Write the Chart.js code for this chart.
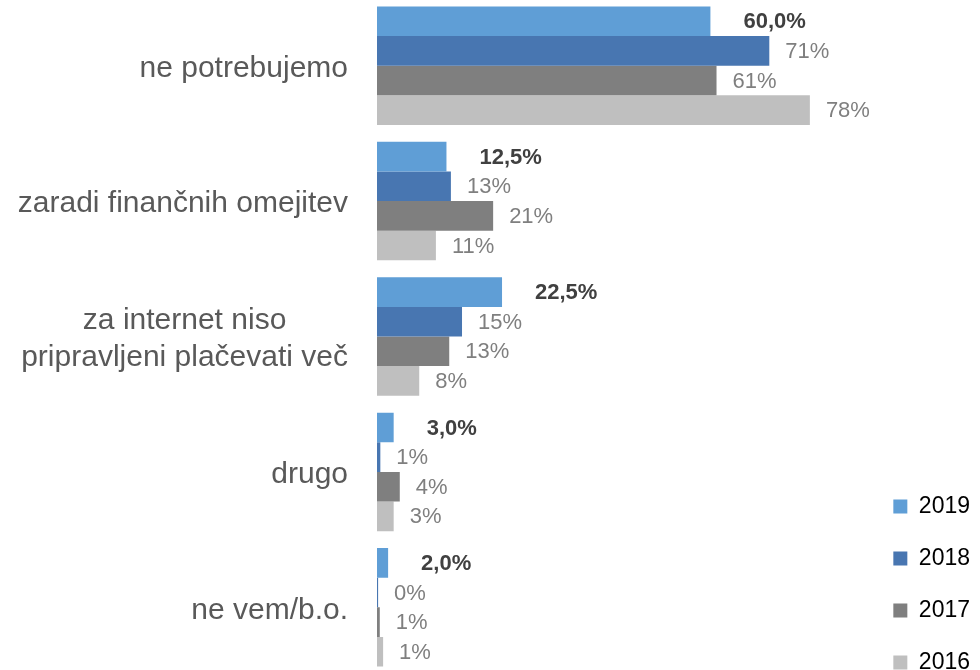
<!DOCTYPE html>
<html>
<head>
<meta charset="utf-8">
<script src="https://cdn.jsdelivr.net/npm/chart.js@4/dist/chart.umd.min.js"></script>
<style>
  html, body { margin: 0; padding: 0; background: #fff; overflow: hidden; }
  #wrap { position: absolute; left: 0; top: -2px; width: 980px; height: 705px; }
</style>
</head>
<body>
<div id="wrap"><canvas id="my-chart"></canvas></div>
<script>
// categories (multi-line label as array)
const categories = [
  'ne potrebujemo',
  'zaradi finančnih omejitev',
  ['za internet niso', 'pripravljeni plačevati več'],
  'drugo',
  'ne vem/b.o.'
];

// values in percent
const years = ['2019', '2018', '2017', '2016'];
const v2019 = [60.0, 12.5, 22.5, 3.0, 2.0];
const v2018 = [70.6, 13.3, 15.3, 0.6, 0.2];
const v2017 = [61.1, 20.9, 13.0, 4.1, 0.5];
const v2016 = [77.9, 10.6, 7.6, 3.0, 1.1];

const barColors = ['#5f9ed6', '#4876b1', '#7f7f7f', '#bfbfbf'];
const xMax = 87.7;

const FONT = "'Liberation Sans', Arial, sans-serif";

// value labels at the end of each bar
const valueLabels = {
  id: 'valueLabels',
  afterDatasetsDraw(chart) {
    const ctx = chart.ctx;
    ctx.save();
    ctx.textBaseline = 'middle';
    ctx.textAlign = 'left';
    chart.data.datasets.forEach((ds, di) => {
      const meta = chart.getDatasetMeta(di);
      const first = di === 0;
      ctx.font = (first ? 'bold ' : '') + '22px ' + FONT;
      ctx.fillStyle = first ? '#404040' : '#7f7f7f';
      meta.data.forEach((bar, i) => {
        const v = ds.data[i];
        const txt = first ? v.toFixed(1).replace('.', ',') + '%' : Math.round(v) + '%';
        ctx.fillText(txt, bar.x + (first ? 33 : 16), bar.y + 1);
      });
    });
    ctx.restore();
  }
};

// category labels: right aligned, multi-line block centred on itself
const catLabels = {
  id: 'catLabels',
  afterDraw(chart) {
    const ctx = chart.ctx;
    const y = chart.scales.y;
    const right = chart.chartArea.left - 29;
    ctx.save();
    ctx.font = '30px ' + FONT;
    ctx.fillStyle = '#595959';
    ctx.textBaseline = 'middle';
    categories.forEach((lab, i) => {
      const py = y.getPixelForTick(i);
      if (Array.isArray(lab)) {
        const widest = Math.max(...lab.map(l => ctx.measureText(l).width));
        const cx = right - widest / 2;
        const lh = 37;
        ctx.textAlign = 'center';
        lab.forEach((l, k) => {
          ctx.fillText(l, cx, py + (k - (lab.length - 1) / 2) * lh + 3);
        });
      } else {
        ctx.textAlign = 'right';
        ctx.fillText(lab, right, py + 3);
      }
    });
    ctx.restore();
  }
};

const series = [v2019, v2018, v2017, v2016];

const myChart = document.getElementById('my-chart').getContext('2d');
const barChart = new Chart(myChart, {
  type: 'bar',
  data: {
    labels: categories,
    datasets: years.map((yr, i) => ({
      label: yr,
      data: series[i],
      backgroundColor: barColors[i],
      borderWidth: 0,
      barPercentage: 1,
      categoryPercentage: 0.875
    }))
  },
  options: {
    indexAxis: 'y',
    responsive: true,
    maintainAspectRatio: false,
    animation: false,
    layout: { padding: 0 },
    scales: {
      x: {
        min: 0,
        max: xMax,
        display: true,
        grid: { display: false },
        border: { display: false },
        ticks: { display: false },
        afterFit: (s) => { s.height = 28; }
      },
      y: {
        grid: { display: false },
        border: { display: false },
        ticks: { display: false },
        afterFit: (s) => { s.width = 377; }
      }
    },
    plugins: {
      tooltip: { enabled: false },
      legend: {
        display: true,
        position: 'right',
        align: 'end',
        labels: {
          boxWidth: 14,
          boxHeight: 14,
          padding: 29,
          color: '#000',
          font: { size: 23, family: FONT }
        }
      }
    }
  },
  plugins: [valueLabels, catLabels]
});
</script>
</body>
</html>
